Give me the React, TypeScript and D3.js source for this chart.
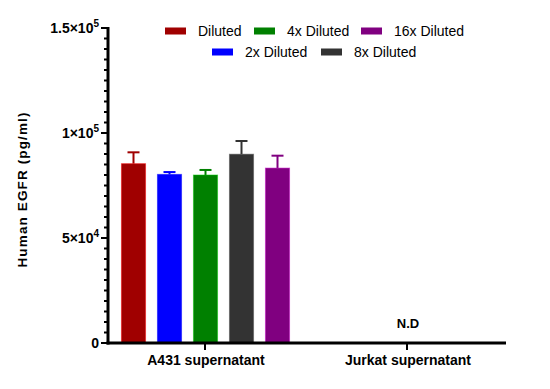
import React, { useEffect, useRef } from 'react';
import * as d3 from 'd3';

const categories = ['A431 supernatant', 'Jurkat supernatant'];
const series = ['Diluted', '2x Diluted', '4x Diluted', '8x Diluted', '16x Diluted'];
const colors = ['#a00000', '#0000ff', '#008000', '#333333', '#800080'];
const means = [85400, 80300, 80000, 89900, 83300];
const errors = [5400, 1100, 2400, 6300, 5900];
const yTicks = [0, 50000, 100000, 150000];
const yTickLabels: [string, string][] = [['0', ''], ['5×10', '4'], ['1×10', '5'], ['1.5×10', '5']];
const legendRows = [
  ['Diluted', '4x Diluted', '16x Diluted'],
  ['2x Diluted', '8x Diluted'],
];

const W = 550;
const H = 389;

const App: React.FC = () => {
  const ref = useRef<SVGSVGElement | null>(null);

  useEffect(() => {
    document.body.style.margin = '0';
    if (!ref.current) return;
    const svg = d3.select(ref.current);
    svg.selectAll('*').remove();

    const left = 108;
    const right = 506;
    const top = 28;
    const bottom = 343;
    const font = 'Liberation Sans, Arial, sans-serif';

    const y = d3.scaleLinear().domain([0, 150000]).range([bottom, top]);
    const x = d3.scaleBand<string>().domain(categories).range([left, right]).paddingInner(0).paddingOuter(0);
    const inner = d3.scaleBand<string>().domain(series).range([0, 180]).paddingInner(0.33).paddingOuter(0.165);
    const color = d3.scaleOrdinal<string, string>().domain(series).range(colors);

    const groupX = (x('A431 supernatant') ?? 0) + x.bandwidth() / 2 - 90 - 2;

    // bars
    const g = svg.append('g').attr('transform', `translate(${groupX},0)`);
    series.forEach((s, i) => {
      const bx = inner(s) ?? 0;
      const bw = inner.bandwidth();
      const cx = bx + bw / 2;
      const c = color(s);
      g.append('line')
        .attr('x1', cx).attr('x2', cx)
        .attr('y1', y(means[i])).attr('y2', y(means[i] + errors[i]))
        .attr('stroke', c).attr('stroke-width', 2);
      g.append('line')
        .attr('x1', cx - 6).attr('x2', cx + 6)
        .attr('y1', y(means[i] + errors[i])).attr('y2', y(means[i] + errors[i]))
        .attr('stroke', c).attr('stroke-width', 2);
      g.append('rect')
        .attr('x', bx).attr('y', y(means[i]))
        .attr('width', bw).attr('height', bottom - y(means[i]))
        .attr('fill', c)
        .attr('stroke', d3.color(c)!.brighter(1.2).formatHex())
        .attr('stroke-opacity', 0.5)
        .attr('stroke-width', 1);
    });

    // y axis minor + major ticks
    const minor = d3.range(0, 150001, 5000);
    svg.append('g').selectAll('line').data(minor).enter().append('line')
      .attr('x1', (d: number) => (yTicks.includes(d) ? left - 7 : left - 4))
      .attr('x2', left)
      .attr('y1', (d: number) => y(d)).attr('y2', (d: number) => y(d))
      .attr('stroke', '#000').attr('stroke-width', 2);

    svg.append('line')
      .attr('x1', left).attr('x2', left).attr('y1', top - 1).attr('y2', bottom + 1.5)
      .attr('stroke', '#000').attr('stroke-width', 3);

    yTicks.forEach((t, i) => {
      const txt = svg.append('text')
        .attr('x', left - 9).attr('y', y(t) + 5)
        .attr('text-anchor', 'end')
        .attr('font-family', font).attr('font-weight', 'bold').attr('font-size', 14)
        .attr('fill', '#000');
      txt.append('tspan').text(yTickLabels[i][0]);
      if (yTickLabels[i][1]) {
        txt.append('tspan').attr('dy', -6).attr('font-size', 10).text(yTickLabels[i][1]);
      }
    });

    // x axis
    svg.append('line')
      .attr('x1', left - 1.5).attr('x2', right).attr('y1', bottom).attr('y2', bottom)
      .attr('stroke', '#000').attr('stroke-width', 3);
    const tickXs = [205, 407];
    categories.forEach((c, i) => {
      svg.append('line')
        .attr('x1', tickXs[i]).attr('x2', tickXs[i]).attr('y1', bottom).attr('y2', bottom + 7)
        .attr('stroke', '#000').attr('stroke-width', 2);
      svg.append('text')
        .attr('x', tickXs[i] + 1).attr('y', bottom + 22)
        .attr('text-anchor', 'middle')
        .attr('font-family', font).attr('font-weight', 'bold').attr('font-size', 14)
        .text(c);
    });

    svg.append('text')
      .attr('x', tickXs[1] + 1).attr('y', 328)
      .attr('text-anchor', 'middle')
      .attr('font-family', font).attr('font-weight', 'bold').attr('font-size', 13)
      .text('N.D');

    // y title
    svg.append('text')
      .attr('transform', `translate(27,190) rotate(-90)`)
      .attr('text-anchor', 'middle')
      .attr('font-family', font).attr('font-weight', 'bold').attr('font-size', 13.5)
      .attr('textLength', 155).attr('lengthAdjust', 'spacing')
      .text('Human EGFR (pg/ml)');

    // legend
    const rowStart = [165, 212];
    const rowY = [31, 52];
    const itemStep = [[0, 89, 196], [0, 109]];
    legendRows.forEach((row, r) => {
      row.forEach((s, k) => {
        const lx = rowStart[r] + itemStep[r][k];
        svg.append('rect')
          .attr('x', lx).attr('y', rowY[r] - 3.5)
          .attr('width', 21).attr('height', 7)
          .attr('fill', color(s));
        svg.append('text')
          .attr('x', lx + 33).attr('y', rowY[r] + 5)
          .attr('font-family', font).attr('font-size', 14)
          .attr('fill', '#000')
          .text(s);
      });
    });
  }, []);

  return <svg ref={ref} width={W} height={H} style={{ display: 'block', background: '#fff' }} />;
};

export default App;
